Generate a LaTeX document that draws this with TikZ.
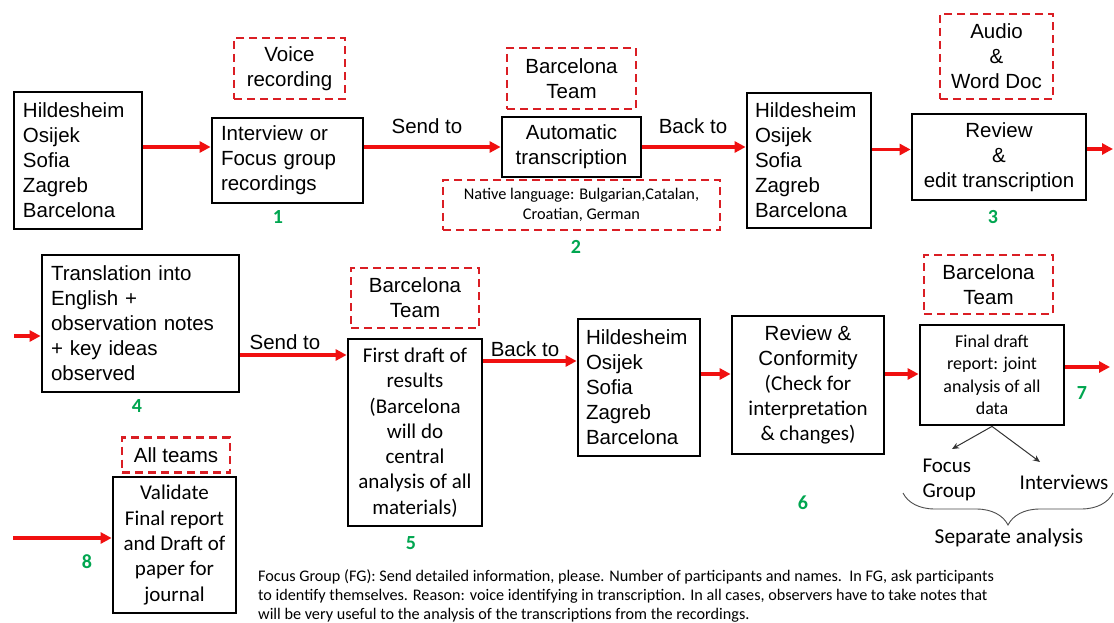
\documentclass[tikz,border=0pt]{standalone}
\usepackage{fontspec}
\setmainfont{Liberation Sans}
\newfontfamily\calib{Carlito}
\usetikzlibrary{arrows.meta,decorations.pathreplacing,calc}
\definecolor{ared}{RGB}{240,16,16}
\definecolor{dred}{RGB}{218,30,36}
\definecolor{ngreen}{RGB}{0,166,80}
\tikzset{
  box/.style={draw=black, line width=2.8pt, inner sep=0pt, font=\fontsize{20.5}{25}\selectfont},
  cbox/.style={draw=black, line width=2.8pt, inner sep=0pt, font=\calib\fontsize{21}{25.3}\selectfont},
  dbox/.style={draw=dred, dash pattern=on 8pt off 5pt, line width=2.8pt, inner sep=0pt, font=\fontsize{20.5}{25}\selectfont, align=center},
  rarr/.style={draw=ared, line width=3.2pt, -{Triangle[length=11pt,width=11pt]}},
  karr/.style={draw=black!80, line width=1pt, -{Stealth[length=7pt,width=6pt]}},
  num/.style={text=ngreen, font=\calib\bfseries\fontsize{20}{22}\selectfont},
  lbl/.style={font=\fontsize{20.5}{25}\selectfont},
  clbl/.style={font=\calib\fontsize{21}{25}\selectfont},
}
\begin{document}
\begin{tikzpicture}[x=1pt,y=-1pt]
\useasboundingbox[fill=white] (0,0) rectangle (1114,623);

% ---------- Row 1 ----------
\node[box, minimum width=128, minimum height=137, text width=110, align=left] (c1) at (78,160.5)
  {Hildesheim\\Osijek\\Sofia\\Zagreb\\Barcelona};
\node[dbox, minimum width=111, minimum height=61] (voice) at (289.5,68.5) {Voice\\recording};
\node[box, minimum width=151, minimum height=85, text width=133, align=left] (int) at (287.5,160.5)
  {Interview or\\Focus group\\recordings};
\node[num] (n1) at (278,217) {1};

\node[dbox, minimum width=129, minimum height=61] (bt1) at (571.5,78.5) {Barcelona\\Team};
\node[box, minimum width=139, minimum height=60, align=center] (auto) at (571.5,147)
  {Automatic\\transcription};
\node[dbox, minimum width=277, minimum height=50, font=\calib\fontsize{16.3}{19.3}\selectfont] (native) at (581.5,205)
  {Native language: Bulgarian,Catalan,\\Croatian, German};
\node[num] (n2) at (576,247) {2};

\node[box, minimum width=124, minimum height=135, text width=108, align=left] (c2) at (809,160.5)
  {Hildesheim\\Osijek\\Sofia\\Zagreb\\Barcelona};
\node[dbox, minimum width=113, minimum height=85] (audio) at (996.5,56.5) {Audio\\\&\\Word Doc};
\node[box, minimum width=174, minimum height=86, align=center] (rev) at (999,157)
  {Review\\\&\\edit transcription};
\node[num] (n3) at (993,217) {3};

\draw[rarr] ([yshift=13.5]c1.east) -- ([yshift=13.5]int.west);
\draw[rarr] ([yshift=13.5]int.east) -- (auto.west);
\node[lbl] (send1) at (427,126) {Send to};
\draw[rarr] (auto.east) -- (auto.east -| c2.west);
\node[lbl] (back1) at (693,126) {Back to};
\coordinate (a4s) at ([yshift=11]c2.east);
\draw[rarr] (a4s) -- (a4s -| rev.west);
\coordinate (o3) at (1113,149);
\draw[rarr] (rev.east |- o3) -- (o3);

% ---------- Row 2 ----------
\node[box, minimum width=197, minimum height=137, text width=179, align=left] (trans) at (140.5,323.5)
  {Translation into\\English +\\observation notes\\+ key ideas\\observed};
\node[num] (n4) at (137,406) {4};
\coordinate (i4) at (14,336);
\draw[rarr] (i4) -- (i4 -| trans.west);

\node[dbox, minimum width=128, minimum height=60] (bt2) at (415,298) {Barcelona\\Team};
\node[cbox, minimum width=134, minimum height=187, align=center] (first) at (415,432.5)
  {First draft of\\results\\(Barcelona\\will do\\central\\analysis of all\\materials)};
\node[num] (n5) at (411,543) {5};
\coordinate (s2) at ([yshift=-31.5]trans.east);
\draw[rarr] (s2) -- (s2 -| first.west);
\node[lbl] (send2) at (285,342) {Send to};

\node[box, minimum width=122, minimum height=137, text width=106, align=left] (c3) at (639,387.5)
  {Hildesheim\\Osijek\\Sofia\\Zagreb\\Barcelona};
\coordinate (b2) at ([yshift=71.5]first.east);
\draw[rarr] (b2) -- (b2 -| c3.west);
\node[lbl] (back2) at (525,349) {Back to};

\node[box, minimum width=152, minimum height=138, align=center] (conf) at (808,385)
  {Review \&\\Conformity\\{\calib\fontsize{21}{25}\selectfont (Check for}\\{\calib\fontsize{21}{25}\selectfont interpretation}\\{\calib\fontsize{21}{25}\selectfont \& changes)}};
\node[num] (n6) at (803,503) {6};
\coordinate (c3s) at ([yshift=13.5]c3.east);
\draw[rarr] (c3s) -- (c3s -| conf.west);

\node[dbox, minimum width=129, minimum height=59] (bt3) at (988.5,284.5) {Barcelona\\Team};
\node[box, minimum width=144, minimum height=100, align=center, font=\calib\fontsize{18}{22.5}\selectfont] (final) at (992,375)
  {Final draft\\report: joint\\analysis of all\\data};
\coordinate (cfs) at ([yshift=11]conf.east);
\draw[rarr] (cfs) -- (cfs -| final.west);
\coordinate (o7) at (1110,367);
\draw[rarr] (final.east |- o7) -- (o7);
\node[num] (n7) at (1082,393) {7};

\node[clbl, align=left, anchor=west] (fg) at (919,480) {Focus\\Group};
\node[clbl] (iv) at (1064,482) {Interviews};
\coordinate (fga) at (952,449);
\coordinate (iva) at (1040,462);
\draw[karr] (final.south) -- (fga);
\draw[karr] (final.south) -- (iva);
\coordinate (brl) at (903,493);
\coordinate (brr) at (1113,493);
\draw[black!70, line width=0.9pt, decorate, decoration={brace, mirror, amplitude=32pt, aspect=0.5}] (brl) -- (brr);
\node[clbl, font=\calib\fontsize{21.3}{25}\selectfont] (sep) at (1009,538) {Separate analysis};

% ---------- Row 3 ----------
\node[dbox, minimum width=108, minimum height=35] (allt) at (176,455) {All teams};
\node[cbox, minimum width=123, minimum height=136, align=center] (val) at (174.5,545)
  {Validate\\Final report\\and Draft of\\paper for\\journal};
\coordinate (i8) at (13,538);
\draw[rarr] (i8) -- (i8 -| val.west);
\node[num] (n8) at (87,562) {8};

\node[anchor=north west, inner sep=0pt, align=left, font=\calib\fontsize{16.2}{19}\selectfont] (note) at (258,569)
  {Focus Group (FG): Send detailed information, please. Number of participants and names.\ \ In FG, ask participants\\
   to identify themselves. Reason: voice identifying in transcription. In all cases, observers have to take notes that\\
   will be very useful to the analysis of the transcriptions from the recordings.};
\end{tikzpicture}
\end{document}
